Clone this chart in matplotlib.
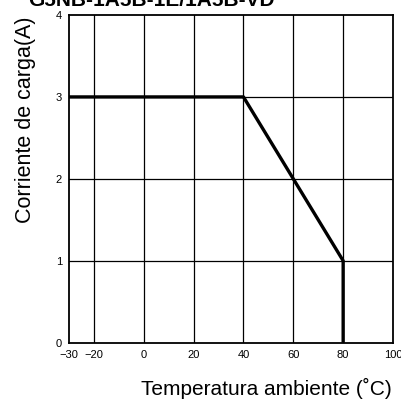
import matplotlib.pyplot as plt
import numpy as np

plt.rcParams['font.family'] = ['Liberation Sans', 'DejaVu Sans']

# derating curve
temp = [-30, 40, 80, 80]
current = [3, 3, 1, 0]

xticks = [-30, -20, 0, 20, 40, 60, 80, 100]
yticks = [0, 1, 2, 3, 4]
xgrid = [-20, 0, 20, 40, 60, 80]
ygrid = [1, 2, 3]

fig = plt.figure(figsize=(4.02, 3.99), dpi=100)
ax = fig.add_axes([69/402, 1-342.7/399, 324/402, 327.7/399])

for g in xgrid:
    ax.axvline(g, color='black', lw=0.9, zorder=1)
for g in ygrid:
    ax.axhline(g, color='black', lw=0.9, zorder=1)

ax.plot(temp, current, color='black', lw=2.4, solid_capstyle='butt', zorder=3)

ax.set_xlim(-30, 100)
ax.set_ylim(0, 4)
ax.set_xticks(xticks)
ax.set_yticks(yticks)
ax.set_xticklabels(['\u221230', '\u221220', '0', '20', '40', '60', '80', '100'])
ax.tick_params(length=0, labelsize=8, pad=5)
for s in ax.spines.values():
    s.set_linewidth(1.3)

fig.text(26/402, 1-120/399, 'Corriente de carga(A)', rotation=90,
         ha='center', va='center', fontsize=15.5)
fig.text(266/402, 1-388/399, 'Temperatura ambiente (\u02daC)',
         ha='center', va='center', fontsize=15)
fig.text(28/402, 1.0, 'G5NB-1A5B-1E/1A5B-VD', ha='left', va='center',
         fontsize=15, fontweight='bold')

plt.savefig('out.png', dpi=100)
